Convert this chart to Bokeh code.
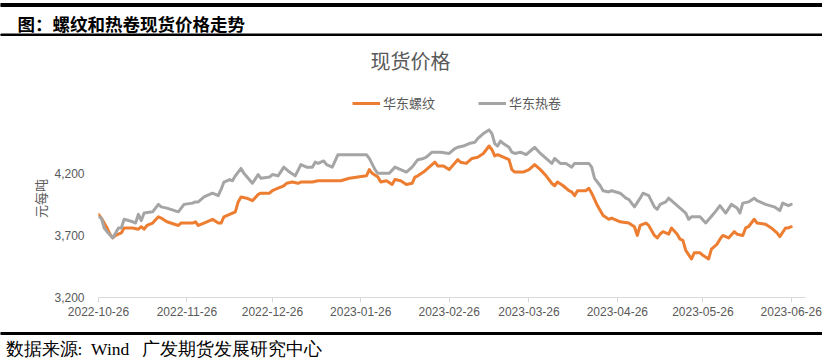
import pandas as pd
from math import pi
from bokeh.plotting import figure
from bokeh.layouts import column, row
from bokeh.models import (Range1d, FixedTicker, DatetimeTickFormatter, NumeralTickFormatter,
                          Legend, LegendItem)
from bokeh.core.properties import value
from bokeh.embed import file_html
from bokeh.resources import INLINE

# ---------------- data ----------------
series_names = ["华东螺纹", "华东热卷"]
series_colors = ["#ED7D31", "#A5A5A5"]

rebar_dates = [
    "2022-10-26", "2022-10-27", "2022-10-29", "2022-10-30", "2022-10-31", "2022-11-01", "2022-11-03", "2022-11-04", "2022-11-07", "2022-11-09",
    "2022-11-10", "2022-11-11", "2022-11-12", "2022-11-14", "2022-11-16", "2022-11-17", "2022-11-19", "2022-11-23", "2022-11-24", "2022-11-28",
    "2022-11-29", "2022-11-30", "2022-12-02", "2022-12-05", "2022-12-07", "2022-12-08", "2022-12-09", "2022-12-12", "2022-12-13", "2022-12-14",
    "2022-12-15", "2022-12-17", "2022-12-19", "2022-12-21", "2022-12-22", "2022-12-25", "2022-12-26", "2022-12-27", "2022-12-28", "2022-12-30",
    "2022-12-31", "2023-01-02", "2023-01-04", "2023-01-05", "2023-01-09", "2023-01-11", "2023-01-19", "2023-01-22", "2023-01-28", "2023-01-29",
    "2023-01-30", "2023-02-01", "2023-02-02", "2023-02-04", "2023-02-06", "2023-02-07", "2023-02-09", "2023-02-11", "2023-02-13", "2023-02-14",
    "2023-02-15", "2023-02-17", "2023-02-19", "2023-02-21", "2023-02-22", "2023-02-24", "2023-02-26", "2023-03-01", "2023-03-02", "2023-03-04",
    "2023-03-06", "2023-03-08", "2023-03-10", "2023-03-12", "2023-03-13", "2023-03-14", "2023-03-15", "2023-03-17", "2023-03-19", "2023-03-20",
    "2023-03-21", "2023-03-24", "2023-03-26", "2023-03-28", "2023-03-30", "2023-04-01", "2023-04-03", "2023-04-04", "2023-04-05", "2023-04-07",
    "2023-04-09", "2023-04-10", "2023-04-11", "2023-04-12", "2023-04-15", "2023-04-16", "2023-04-17", "2023-04-19", "2023-04-21", "2023-04-23",
    "2023-04-24", "2023-04-26", "2023-04-27", "2023-04-30", "2023-05-02", "2023-05-03", "2023-05-04", "2023-05-06", "2023-05-07", "2023-05-09",
    "2023-05-10", "2023-05-11", "2023-05-12", "2023-05-14", "2023-05-15", "2023-05-17", "2023-05-18", "2023-05-19", "2023-05-20", "2023-05-22",
    "2023-05-23", "2023-05-25", "2023-05-26", "2023-05-28", "2023-05-29", "2023-05-31", "2023-06-01", "2023-06-02", "2023-06-04", "2023-06-06",
    "2023-06-07", "2023-06-09", "2023-06-10", "2023-06-11", "2023-06-13", "2023-06-14", "2023-06-17", "2023-06-19", "2023-06-21", "2023-06-22",
    "2023-06-24", "2023-06-25", "2023-06-26",
]
rebar_values = [
    3870, 3840, 3760, 3710, 3680, 3700, 3720, 3760, 3760, 3750,
    3770, 3750, 3780, 3800, 3850, 3840, 3810, 3780, 3800, 3800,
    3810, 3780, 3800, 3830, 3800, 3800, 3850, 3880, 3890, 3970,
    4010, 4000, 3980, 4030, 4040, 4040, 4060, 4070, 4080, 4100,
    4120, 4130, 4120, 4130, 4130, 4140, 4140, 4160, 4180, 4230,
    4200, 4170, 4130, 4140, 4110, 4150, 4140, 4110, 4120, 4170,
    4180, 4210, 4250, 4290, 4260, 4260, 4230, 4310, 4290, 4280,
    4320, 4330, 4360, 4420, 4390, 4340, 4350, 4330, 4310, 4230,
    4210, 4210, 4230, 4270, 4230, 4180, 4120, 4100, 4130, 4100,
    4060, 4050, 4020, 4060, 4060, 4080, 4040, 3940, 3860, 3830,
    3840, 3820, 3810, 3800, 3770, 3700, 3780, 3800, 3780, 3700,
    3680, 3710, 3730, 3710, 3760, 3710, 3670, 3660, 3580, 3510,
    3560, 3560, 3540, 3510, 3590, 3630, 3670, 3700, 3680, 3730,
    3710, 3700, 3760, 3770, 3830, 3800, 3790, 3760, 3720, 3690,
    3760, 3760, 3770,
]

hrc_dates = [
    "2022-10-26", "2022-10-27", "2022-10-28", "2022-10-29", "2022-10-31", "2022-11-02", "2022-11-03", "2022-11-04", "2022-11-07", "2022-11-08",
    "2022-11-09", "2022-11-10", "2022-11-11", "2022-11-14", "2022-11-16", "2022-11-17", "2022-11-19", "2022-11-23", "2022-11-24", "2022-11-25",
    "2022-11-28", "2022-11-29", "2022-11-30", "2022-12-02", "2022-12-05", "2022-12-07", "2022-12-08", "2022-12-09", "2022-12-11", "2022-12-12",
    "2022-12-13", "2022-12-15", "2022-12-16", "2022-12-19", "2022-12-21", "2022-12-22", "2022-12-25", "2022-12-26", "2022-12-28", "2022-12-30",
    "2023-01-01", "2023-01-03", "2023-01-05", "2023-01-07", "2023-01-09", "2023-01-10", "2023-01-11", "2023-01-13", "2023-01-14", "2023-01-16",
    "2023-01-18", "2023-01-28", "2023-01-29", "2023-01-31", "2023-02-01", "2023-02-05", "2023-02-07", "2023-02-09", "2023-02-11", "2023-02-13",
    "2023-02-15", "2023-02-17", "2023-02-18", "2023-02-20", "2023-02-23", "2023-02-26", "2023-02-28", "2023-03-01", "2023-03-03", "2023-03-05",
    "2023-03-07", "2023-03-08", "2023-03-10", "2023-03-12", "2023-03-13", "2023-03-14", "2023-03-15", "2023-03-16", "2023-03-17", "2023-03-19",
    "2023-03-20", "2023-03-21", "2023-03-23", "2023-03-25", "2023-03-27", "2023-03-28", "2023-03-30", "2023-04-01", "2023-04-03", "2023-04-04",
    "2023-04-06", "2023-04-08", "2023-04-10", "2023-04-11", "2023-04-13", "2023-04-16", "2023-04-17", "2023-04-18", "2023-04-20", "2023-04-21",
    "2023-04-23", "2023-04-24", "2023-04-27", "2023-04-29", "2023-04-30", "2023-05-02", "2023-05-04", "2023-05-05", "2023-05-07", "2023-05-09",
    "2023-05-10", "2023-05-11", "2023-05-13", "2023-05-14", "2023-05-16", "2023-05-19", "2023-05-20", "2023-05-21", "2023-05-22", "2023-05-25",
    "2023-05-27", "2023-05-30", "2023-05-31", "2023-06-01", "2023-06-03", "2023-06-05", "2023-06-07", "2023-06-08", "2023-06-09", "2023-06-11",
    "2023-06-13", "2023-06-14", "2023-06-17", "2023-06-20", "2023-06-22", "2023-06-23", "2023-06-25", "2023-06-26",
]
hrc_values = [
    3850, 3840, 3760, 3730, 3680, 3760, 3760, 3830, 3810, 3800,
    3870, 3820, 3880, 3890, 3950, 3930, 3920, 3890, 3920, 3950,
    3960, 3970, 3970, 4010, 4040, 4020, 4070, 4130, 4150, 4140,
    4180, 4240, 4200, 4120, 4190, 4160, 4170, 4190, 4180, 4250,
    4210, 4180, 4270, 4250, 4250, 4290, 4280, 4300, 4270, 4250,
    4350, 4350, 4320, 4230, 4200, 4200, 4250, 4230, 4210, 4250,
    4310, 4320, 4330, 4370, 4370, 4360, 4400, 4410, 4420, 4440,
    4450, 4480, 4520, 4550, 4520, 4440, 4420, 4460, 4440, 4410,
    4370, 4360, 4370, 4350, 4390, 4410, 4360, 4320, 4280, 4320,
    4280, 4280, 4250, 4280, 4280, 4280, 4250, 4160, 4100, 4060,
    4050, 4060, 4040, 4000, 3990, 3930, 4000, 4040, 4020, 3930,
    3910, 3950, 3970, 4000, 3960, 3900, 3880, 3830, 3850, 3850,
    3800, 3880, 3910, 3940, 3880, 3950, 3920, 3880, 3960, 3970,
    4000, 3980, 3950, 3930, 3900, 3960, 3940, 3950,
]

x_tick_labels = ["2022-10-26", "2022-11-26", "2022-12-26", "2023-01-26", "2023-02-26",
                 "2023-03-26", "2023-04-26", "2023-05-26", "2023-06-26"]
y_ticks = [3200, 3700, 4200]

header_text = "图：螺纹和热卷现货价格走势"
chart_title = "现货价格"
y_label = "元每吨"
NB = "\u00a0"
source_text = "数据来源:" + NB * 2 + "Wind" + NB * 3 + "广发期货发展研究中心"

GRAY_TXT = "#595959"
CJK = "Noto Sans CJK SC"


def blank(w, h):
    f = figure(width=w, height=h, x_range=Range1d(0, w), y_range=Range1d(h, 0),
               output_backend="svg", toolbar_location=None, min_border=0,
               x_axis_location=None, y_axis_location=None)
    f.outline_line_color = None
    f.grid.visible = False
    f.background_fill_color = "white"
    f.border_fill_color = "white"
    return f


# ---------------- header band ----------------
TOP_H = 112
ph = blank(822, TOP_H)
ph.quad(left=0, right=822, top=3, bottom=6, color="black")
ph.quad(left=0, right=822, top=33.5, bottom=35, color="black")
ph.text(x=[17], y=[23], text=[header_text], text_font=value(CJK), text_font_style="bold",
        text_font_size="17.5px", text_color="black", text_align="left", text_baseline="middle")
ph.text(x=[410], y=[60], text=[chart_title], text_font=value(CJK),
        text_font_size="20px", text_color=GRAY_TXT, text_align="center", text_baseline="middle")
# legend proxies (no visible data, only used for the legend swatches)
nan = float("nan")
d1 = ph.line(x=[nan, nan], y=[nan, nan], line_color=series_colors[0], line_width=3)
d2 = ph.line(x=[nan, nan], y=[nan, nan], line_color=series_colors[1], line_width=3)
legend = Legend(items=[LegendItem(label=series_names[0], renderers=[d1]),
                       LegendItem(label=series_names[1], renderers=[d2])],
                location=(352, 0), orientation="horizontal",
                padding=0, margin=0, spacing=43, glyph_width=28, glyph_height=14,
                label_standoff=3, label_height=14,
                label_text_font=CJK, label_text_font_size="13px",
                label_text_color=GRAY_TXT, border_line_color=None,
                background_fill_alpha=0)
ph.add_layout(legend, "center")

# ---------------- left band (y label) ----------------
MID_H = 215
pl = blank(50, MID_H)
pl.text(x=[40], y=[212 - TOP_H], text=[y_label], text_font=value(CJK), text_font_size="13px",
        text_color=GRAY_TXT, angle=pi / 2, text_align="center", text_baseline="middle")

# ---------------- main chart ----------------
pm = figure(width=772, height=MID_H, x_axis_type="datetime", output_backend="svg",
            toolbar_location=None, title=None,
            x_range=Range1d(pd.Timestamp("2022-10-26"), pd.Timestamp("2023-07-01")),
            y_range=Range1d(3200, 4690),
            min_border_left=48, min_border_right=17, min_border_top=0, min_border_bottom=30)
pm.outline_line_color = None
pm.grid.visible = False
pm.background_fill_color = "white"
pm.border_fill_color = "white"

pm.line(pd.to_datetime(rebar_dates), rebar_values, line_color=series_colors[0],
        line_width=3, line_join="round", line_cap="round")
pm.line(pd.to_datetime(hrc_dates), hrc_values, line_color=series_colors[1],
        line_width=3, line_join="round", line_cap="round")

tick_ms = [int(pd.Timestamp(t).value // 10**6) for t in x_tick_labels]
pm.xaxis.ticker = FixedTicker(ticks=tick_ms)
fmt = "%Y-%m-%d"
pm.xaxis.formatter = DatetimeTickFormatter(days=fmt, months=fmt, years=fmt, hours=fmt,
                                           hourmin=fmt, minutes=fmt, minsec=fmt,
                                           seconds=fmt, milliseconds=fmt, microseconds=fmt)
pm.xaxis.axis_line_color = "#D9D9D9"
pm.xaxis.major_tick_line_color = "#D9D9D9"
pm.xaxis.major_tick_out = 5
pm.xaxis.major_tick_in = 0
pm.xaxis.minor_tick_line_color = None
pm.xaxis.major_label_text_font = "Liberation Sans"
pm.xaxis.major_label_text_font_size = "12px"
pm.xaxis.major_label_text_color = GRAY_TXT
pm.xaxis.major_label_standoff = 4

pm.yaxis.ticker = FixedTicker(ticks=y_ticks)
pm.yaxis.formatter = NumeralTickFormatter(format="0,0")
pm.yaxis.axis_line_color = None
pm.yaxis.major_tick_line_color = None
pm.yaxis.minor_tick_line_color = None
pm.yaxis.major_tick_out = 0
pm.yaxis.major_tick_in = 0
pm.yaxis.major_label_standoff = 14
pm.yaxis.major_label_text_font = "Liberation Sans"
pm.yaxis.major_label_text_font_size = "12px"
pm.yaxis.major_label_text_color = GRAY_TXT

# ---------------- footer band ----------------
FOOT_H = 363 - TOP_H - MID_H
pf = blank(822, FOOT_H)
pf.quad(left=0, right=822, top=332 - TOP_H - MID_H, bottom=334 - TOP_H - MID_H, color="black")
pf.text(x=[5], y=[348 - TOP_H - MID_H], text=[source_text], text_font=value("Liberation Serif"),
        text_font_size="17.5px", text_color="black", text_align="left", text_baseline="middle")

layout = column(ph, row(pl, pm), pf)
open("out.html", "w").write(file_html(layout, INLINE))
